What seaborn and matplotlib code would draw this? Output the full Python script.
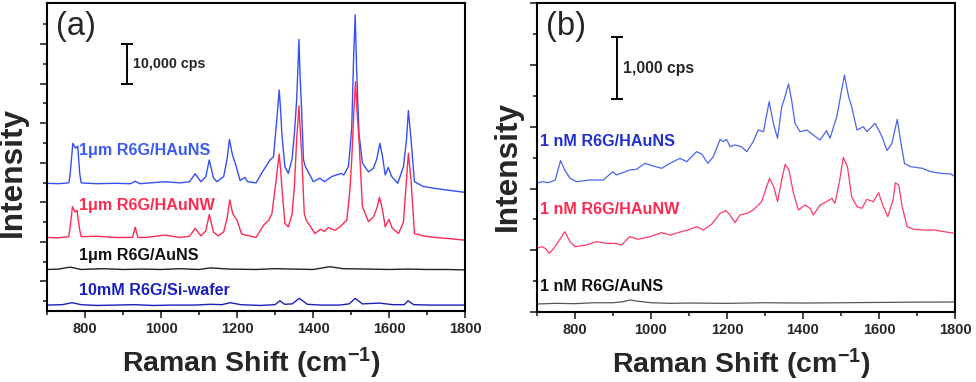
import matplotlib
matplotlib.use("Agg")
import matplotlib.pyplot as plt
import numpy as np
import pandas as pd
import seaborn as sns
from matplotlib.ticker import FixedLocator

# ---------------- data: panel (a), intensity in kcps (stacked) ----------------
a_hauns_x = [700, 730, 756, 758, 761, 768, 775, 781, 786, 790, 830, 880, 920, 932, 945,
             1010, 1050, 1075, 1090, 1105, 1118, 1127, 1138, 1147, 1165, 1174, 1180, 1188,
             1197, 1208, 1221, 1228, 1250, 1269, 1287, 1296, 1303, 1307, 1311, 1315, 1318, 1326, 1335,
             1345, 1351, 1357, 1360, 1363, 1366, 1370, 1375, 1380, 1401, 1418, 1430, 1449, 1474, 1481,
             1493, 1497, 1502, 1507, 1511, 1515, 1521, 1530, 1546, 1559, 1568, 1576, 1583, 1590, 1598, 1607,
             1623, 1638, 1646, 1651, 1658, 1667, 1690, 1721, 1760, 1800]
a_hauns_y = [29.8, 29.7, 29.9, 30.0, 32.3, 39.9, 38.7, 39.2, 32.3, 29.9, 29.7, 29.8, 29.7, 30.3, 29.7,
             30.2, 29.9, 30.2, 32.2, 30.2, 31.5, 35.7, 31.2, 30.2, 31.5, 36.0, 40.9, 37.0,
             34.4, 30.5, 31.3, 30.2, 29.9, 33.0, 35.7, 36.5, 44.1, 48.5, 53.4, 48.0, 42.4, 34.0, 32.3,
             36.0, 42.4, 50.9, 58.0, 66.2, 57.0, 48.4, 35.7, 34.0, 30.2, 31.1, 30.2, 31.5, 32.3, 31.9,
             34.0, 38.0, 44.1, 62.0, 72.4, 58.0, 42.4, 34.9, 32.7, 33.6, 36.0, 39.9, 36.5, 31.9, 33.8, 31.5,
             29.8, 34.0, 40.8, 48.2, 40.8, 30.2, 29.0, 28.5, 28.0, 27.5]

a_haunw_x = [700, 730, 757, 760, 767, 774, 779, 786, 790, 830, 880, 925, 932, 939, 960,
             1010, 1050, 1075, 1090, 1105, 1118, 1127, 1138, 1150, 1165, 1174, 1181, 1189,
             1200, 1212, 1222, 1250, 1270, 1284, 1292, 1303, 1307, 1311, 1315, 1318, 1326, 1335, 1345,
             1351, 1357, 1360, 1363, 1366, 1370, 1377, 1382, 1405, 1420, 1430, 1440, 1458, 1471, 1489,
             1497, 1502, 1508, 1512, 1516, 1521, 1530, 1546, 1559, 1568, 1575, 1583, 1590, 1600, 1608, 1625,
             1638, 1646, 1651, 1658, 1667, 1690, 1721, 1760, 1800]
a_haunw_y = [16.1, 16.0, 16.3, 18.0, 23.9, 22.5, 23.0, 18.0, 16.3, 16.4, 16.1, 16.1, 18.7, 16.1, 16.1,
             16.7, 16.1, 16.4, 18.4, 16.5, 17.8, 21.9, 17.5, 16.5, 17.5, 21.0, 25.6, 22.0,
             20.5, 17.0, 16.7, 16.1, 19.2, 20.5, 22.2, 30.6, 34.0, 37.2, 33.0, 28.9, 19.7, 18.8, 22.0,
             28.9, 40.8, 45.0, 49.4, 44.0, 37.4, 22.2, 20.5, 17.1, 18.2, 17.6, 18.6, 17.9, 18.8, 20.5,
             28.0, 36.0, 49.0, 55.5, 48.0, 40.8, 23.9, 20.1, 21.3, 23.5, 26.3, 23.0, 18.8, 20.7, 18.5, 17.1,
             20.0, 30.6, 37.4, 30.6, 17.1, 16.5, 16.1, 15.8, 15.4]

a_auns_x = [700, 730, 761, 790, 850, 900, 950, 1000, 1050, 1100, 1130, 1180, 1250, 1300,
            1350, 1400, 1444, 1480, 1550, 1600, 1650, 1700, 1750, 1800]
a_auns_y = [8.0, 8.1, 8.6, 8.0, 8.2, 8.0, 8.1, 8.0, 8.2, 8.0, 8.4, 8.1, 8.0, 8.2,
            8.1, 8.0, 8.7, 8.2, 8.1, 8.0, 8.1, 8.0, 8.0, 7.9]

a_si_x = [700, 740, 766, 790, 830, 880, 930, 980, 1030, 1090, 1130, 1160, 1182, 1210, 1260,
          1300, 1313, 1325, 1345, 1364, 1385, 1420, 1470, 1495, 1511, 1530, 1575, 1610,
          1640, 1650, 1665, 1710, 1760, 1800]
a_si_y = [-1.0, -0.9, -0.4, -0.9, -1.1, -1.0, -0.9, -1.1, -1.0, -1.0, -0.8, -0.9, -0.4, -0.9, -1.1,
          -0.9, 0.1, -0.8, -0.7, 0.7, -0.8, -1.0, -1.0, -0.7, 0.7, -0.7, -0.5, -0.9,
          -0.9, 0.1, -0.9, -1.0, -1.0, -1.0]

# ---------------- data: panel (b), intensity in cps (stacked) ----------------
b_hauns_x = [699, 713, 730, 748, 762, 773, 787, 804, 839, 874, 900, 909, 944, 962, 984,
             1006, 1028, 1050, 1076, 1094, 1120, 1133, 1150, 1164, 1182, 1190, 1199, 1208,
             1221, 1238, 1252, 1269, 1282, 1296, 1311, 1322, 1333, 1344, 1350, 1362, 1370,
             1379, 1392, 1410, 1427, 1445, 1462, 1471, 1489, 1509, 1520, 1528, 1542, 1559,
             1568, 1590, 1608, 1621, 1634, 1648, 1658, 1667, 1683, 1714, 1736, 1762, 1789, 1800]
b_hauns_y = [2084, 2111, 2095, 2138, 2452, 2300, 2165, 2111, 2138, 2138, 2273, 2219, 2300, 2311, 2408,
             2365, 2327, 2408, 2489, 2435, 2597, 2560, 2408, 2516, 2797, 2759, 2797, 2678,
             2705, 2678, 2597, 2759, 2948, 2921, 3407, 3056, 2813, 3326, 3434, 3694, 3434,
             3056, 2921, 2948, 2867, 2786, 2938, 2813, 3164, 3839, 3488, 3326, 2948, 3002,
             2921, 3056, 2840, 2614, 2732, 3121, 2732, 2408, 2354, 2327, 2273, 2246, 2236, 2192]

b_haunw_x = [699, 713, 722, 732, 744, 762, 773, 787, 800, 830, 856, 883, 905, 922, 944,
             966, 997, 1028, 1050, 1080, 1102, 1120, 1138, 1160, 1182, 1197, 1208, 1221,
             1234, 1252, 1269, 1291, 1312, 1323, 1333, 1344, 1353, 1363, 1375, 1388, 1405,
             1419, 1427, 1445, 1462, 1476, 1484, 1496, 1506, 1517, 1528, 1542, 1555, 1568,
             1585, 1599, 1608, 1623, 1637, 1643, 1652, 1661, 1674, 1692, 1718, 1745, 1771, 1800]
b_haunw_y = [1031, 1058, 1031, 950, 1031, 1193, 1301, 1139, 1058, 1085, 1139, 1112, 1112, 1085, 1220,
             1177, 1220, 1285, 1247, 1301, 1339, 1382, 1328, 1426, 1598, 1642, 1571, 1447,
             1571, 1598, 1652, 1787, 2165, 2030, 1787, 2138, 2392, 2300, 1922, 1652, 1733,
             1679, 1571, 1733, 1787, 1841, 1760, 2111, 2506, 2354, 1868, 1706, 1679, 1825,
             1787, 1933, 1760, 1544, 1814, 2095, 2057, 1706, 1382, 1339, 1328, 1328, 1301, 1274]

b_auns_x = [700, 750, 800, 850, 900, 925, 945, 965, 1000, 1050, 1100, 1200, 1300, 1400,
            1500, 1600, 1700, 1800]
b_auns_y = [130, 140, 135, 150, 150, 165, 194, 175, 150, 140, 145, 140, 150, 145,
            150, 155, 160, 162]

a_labels = ["1\u03bcm R6G/HAuNS", "1\u03bcm R6G/HAuNW", "1\u03bcm R6G/AuNS", "10mM R6G/Si-wafer"]
a_label_y = [38.2, 24.3, 11.6, 2.8]
b_labels = ["1 nM R6G/HAuNS", "1 nM R6G/HAuNW", "1 nM R6G/AuNS"]
b_label_y = [2759, 1663, 410]
x_ticks = [800, 1000, 1200, 1400, 1600, 1800]
scale_a = (910, 55, 65, "10,000 cps")
scale_b = (910, 3450, 4450, "1,000 cps")

# ---------------- style ----------------
sns.set_style("ticks")
plt.rcParams['font.family'] = ['Liberation Sans', 'DejaVu Sans']
plt.rcParams['font.weight'] = 'bold'
plt.rcParams['mathtext.fontset'] = 'custom'
plt.rcParams['mathtext.rm'] = 'Liberation Sans'
plt.rcParams['mathtext.it'] = 'Liberation Sans'
plt.rcParams['mathtext.bf'] = 'Liberation Sans:bold'
plt.rcParams['mathtext.default'] = 'rm'

fig = plt.figure(figsize=(9.76, 3.82), dpi=100)
ax_a = fig.add_axes([0.04816, 0.18586, 0.42828, 0.80628])
ax_b = fig.add_axes([0.55020, 0.18325, 0.42828, 0.80890])

def draw(ax, x, y, color, lw):
    df = pd.DataFrame({"shift": x, "intensity": y})
    sns.lineplot(data=df, x="shift", y="intensity", ax=ax, color=color, lw=lw,
                 estimator=None, sort=False)

draw(ax_a, a_hauns_x, a_hauns_y, "#3350f5", 1.0)
draw(ax_a, a_haunw_x, a_haunw_y, "#ff2a55", 1.0)
draw(ax_a, a_auns_x, a_auns_y, "#222222", 1.0)
draw(ax_a, a_si_x, a_si_y, "#1c20b8", 1.0)

draw(ax_b, b_hauns_x, b_hauns_y, "#4a64f0", 0.9)
draw(ax_b, b_haunw_x, b_haunw_y, "#ff3a68", 0.9)
draw(ax_b, b_auns_x, b_auns_y, "#555555", 0.9)

a_colors = ["#3a5cf5", "#ff2a50", "#111111", "#1c20c0"]
for lab, yy, c in zip(a_labels, a_label_y, a_colors):
    ax_a.text(784, yy, lab, color=c, fontsize=11.6, fontweight='bold', va='center', ha='left')
b_colors = ["#1f30d0", "#ff2a50", "#111111"]
for lab, yy, c in zip(b_labels, b_label_y, b_colors):
    ax_b.text(707, yy, lab, color=c, fontsize=11.6, fontweight='bold', va='center', ha='left')

for ax, sc, fs in [(ax_a, scale_a, 10.3), (ax_b, scale_b, 11.3)]:
    xs, y0, y1, txt = sc
    ax.errorbar([xs], [(y0 + y1) / 2], yerr=[(y1 - y0) / 2], color='black', lw=1.4,
                capsize=4.5, capthick=1.4)
    ax.text(xs + 16, (y0 + y1) / 2, txt, fontsize=fs, fontweight='bold', va='center', ha='left')

for ax, tag in [(ax_a, "(a)"), (ax_b, "(b)")]:
    ax.text(0.022, 0.925, tag, transform=ax.transAxes, fontsize=23.5, fontweight='normal',
            va='center', ha='left')

ax_a.set_ylim(-2.5, 75.4)
ax_a.yaxis.set_major_locator(FixedLocator(list(range(5, 70, 10))))
ax_a.yaxis.set_minor_locator(FixedLocator(list(range(0, 75, 10))))
ax_b.set_ylim(0, 5005)
ax_b.yaxis.set_major_locator(FixedLocator(list(range(0, 5001, 1000))))
ax_b.yaxis.set_minor_locator(FixedLocator(list(range(500, 5000, 1000))))

label_x = {ax_a: (-0.045, 0.451), ax_b: (-0.034, 0.474)}
for ax in (ax_a, ax_b):
    ax.set_xlim(700, 1800)
    ax.xaxis.set_major_locator(FixedLocator(x_ticks))
    ax.xaxis.set_minor_locator(FixedLocator([700, 900, 1100, 1300, 1500, 1700]))
    ax.set_yticklabels([])
    ax.tick_params(axis='both', which='major', direction='out', length=5, width=1.2,
                   labelsize=10.5, pad=3)
    ax.tick_params(axis='both', which='minor', direction='out', length=3, width=1.2)
    ax.tick_params(axis='y', left=True, right=False, labelleft=False)
    ax.tick_params(axis='x', top=False, bottom=True)
    for lbl in ax.get_xticklabels():
        lbl.set_fontweight('bold')
    for s in ax.spines.values():
        s.set_visible(True)
        s.set_linewidth(1.5)
        s.set_color('black')
    ax.set_xlabel(r"Raman Shift (cm$^{-1}$)", fontsize=20.5, fontweight='bold')
    ax.set_ylabel("Intensity", fontsize=22.8, fontweight='bold')
    ax.xaxis.set_label_coords(0.49, -0.112)
    ax.yaxis.set_label_coords(*label_x[ax])
    ax.xaxis.label.set_va('top')

fig.savefig("out.png", dpi=100)
